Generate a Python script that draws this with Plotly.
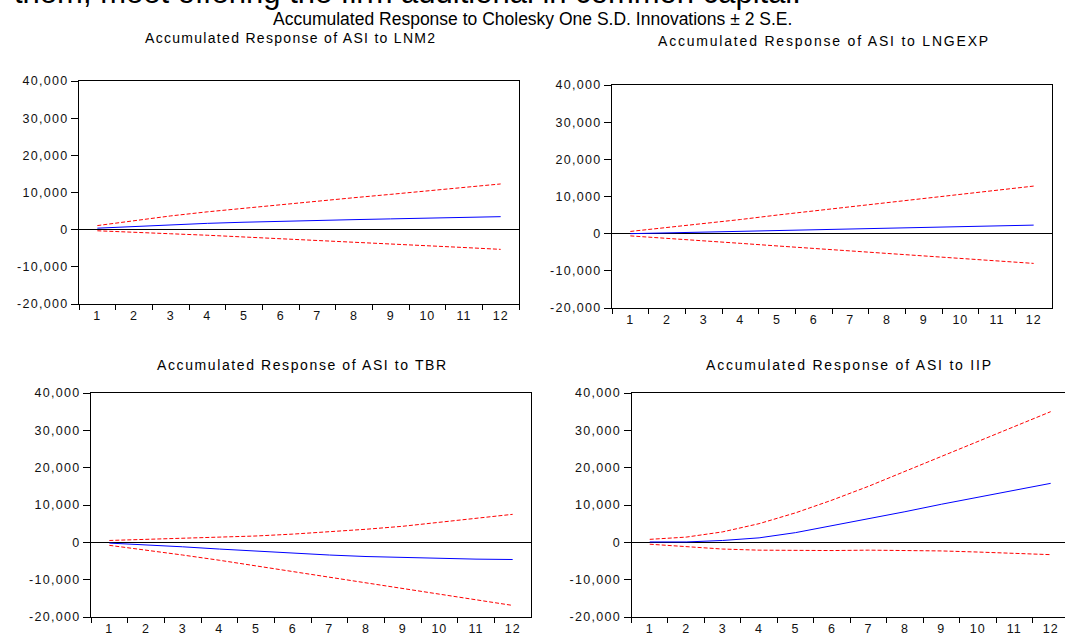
import plotly.graph_objects as go

# ---------------- data ----------------
periods = ["1", "2", "3", "4", "5", "6", "7", "8", "9", "10", "11", "12"]

lnm2_resp  = [400, 900, 1300, 1700, 2000, 2300, 2500, 2700, 2900, 3100, 3300, 3500]
lnm2_upper = [1100, 2500, 3700, 4800, 5800, 6800, 7700, 8600, 9500, 10500, 11400, 12300]
lnm2_lower = [-300, -600, -1100, -1500, -2000, -2400, -2900, -3400, -3900, -4400, -4800, -5300]

lngexp_resp  = [0, 200, 400, 600, 800, 1000, 1200, 1400, 1600, 1800, 2000, 2300]
lngexp_upper = [600, 1600, 2700, 3800, 5000, 6100, 7300, 8500, 9600, 10700, 11800, 12800]
lngexp_lower = [-600, -1200, -1900, -2600, -3300, -4000, -4700, -5400, -6100, -6800, -7400, -8000]

tbr_resp  = [-200, -600, -1200, -1800, -2400, -2900, -3400, -3800, -4100, -4300, -4500, -4600]
tbr_upper = [500, 800, 1000, 1300, 1700, 2200, 2800, 3500, 4300, 5400, 6400, 7500]
tbr_lower = [-800, -2000, -3400, -4800, -6300, -7800, -9300, -10800, -12300, -13900, -15500, -16900]

iip_resp  = [100, 100, 500, 1200, 2600, 4400, 6200, 8200, 10200, 12100, 14000, 15800]
iip_upper = [800, 1400, 2800, 5000, 7900, 11300, 15000, 19000, 23100, 27100, 31000, 35000]
iip_lower = [-500, -1200, -1800, -2100, -2200, -2200, -2100, -2100, -2300, -2600, -2900, -3300]

y_tickvals = [-20000, -10000, 0, 10000, 20000, 30000, 40000]
y_ticklabels = ["-20,000", "-10,000", "0", "10,000", "20,000", "30,000", "40,000"]

main_title = "Accumulated Response to Cholesky One S.D. Innovations \u00b1 2 S.E."
panel_titles = [
    "Accumulated Response of ASI to LNM2",
    "Accumulated Response of ASI to LNGEXP",
    "Accumulated Response of ASI to TBR",
    "Accumulated Response of ASI to IIP",
]
header_text = "them, meet offering the firm additional in common capital."

# ---------------- layout helpers ----------------
W, H = 1065, 635
def px(x):
    return x / W
def py(y):
    return 1 - y / H

FONT = "Liberation Sans, Arial, sans-serif"

def spaced(t, ls):
    return '<span style="letter-spacing:%spx">%s</span>' % (ls, t)

# pixel boxes: (left, right, top, bottom, category range max)
boxes = [
    (79, 519, 81, 304, 11.5),
    (612, 1052, 85, 308, 11.5),
    (91, 531, 393, 617, 11.5),
    (631.5, 1065, 393, 617, -0.5 + (1065 - 631.5) / 36.45),
]
series = [
    (lnm2_resp, lnm2_upper, lnm2_lower),
    (lngexp_resp, lngexp_upper, lngexp_lower),
    (tbr_resp, tbr_upper, tbr_lower),
    (iip_resp, iip_upper, iip_lower),
]
title_pos = [(290, 38), (824, 41), (302, 365), (849, 365)]
title_ls = [1.3, 1.8, 1.6, 1.8]

fig = go.Figure()
layout = dict(
    width=W, height=H, autosize=False,
    margin=dict(l=0, r=0, t=0, b=0, pad=0),
    paper_bgcolor="white", plot_bgcolor="white",
    showlegend=False,
    font=dict(family=FONT, size=12, color="black"),
    annotations=[],
)

tick_text = [spaced(t, 1.3) for t in y_ticklabels]
x_text = [spaced(t, 1.0) for t in periods]
TICKFONT = dict(family=FONT, size=12.5, color="#111111")

for i, ((l, r, t, b, xmax), (resp, up, lo)) in enumerate(zip(boxes, series)):
    n = "" if i == 0 else str(i + 1)
    xa, ya = "x" + n, "y" + n
    for vals, color, dash in ((up, "#FF0000", "4px,2px"), (lo, "#FF0000", "4px,2px"), (resp, "#0000FF", "solid")):
        fig.add_trace(go.Scatter(x=periods, y=vals, mode="lines", xaxis=xa, yaxis=ya,
                                 line=dict(color=color, width=1, dash=dash), hoverinfo="skip"))
    layout["xaxis" + n] = dict(
        domain=[px(l), px(r)], anchor=ya, type="category", automargin=False,
        range=[-0.5, xmax], tickson="boundaries", ticks="outside", ticklen=5,
        tickcolor="black", tickwidth=1,
        tickmode="array", tickvals=periods, ticktext=x_text,
        showline=True, linecolor="black", linewidth=1, mirror=True,
        showgrid=False, zeroline=False, fixedrange=True,
        tickfont=TICKFONT,
    )
    layout["yaxis" + n] = dict(
        domain=[py(b), py(t)], anchor=xa, automargin=False,
        range=[-20000, 40000], tickmode="array", tickvals=y_tickvals, ticktext=tick_text,
        ticks="outside", ticklen=7, tickcolor="black", tickwidth=1,
        showline=True, linecolor="black", linewidth=1, mirror=(i != 3),
        showgrid=False, zeroline=True, zerolinecolor="black", zerolinewidth=1,
        fixedrange=True,
        tickfont=TICKFONT,
    )
    tx, ty = title_pos[i]
    layout["annotations"].append(dict(
        text=spaced(panel_titles[i], title_ls[i]), x=px(tx), y=py(ty), xref="paper", yref="paper",
        xanchor="center", yanchor="middle", showarrow=False,
        font=dict(family=FONT, size=14, color="black")))

layout["annotations"].append(dict(
    text=main_title, x=px(532), y=py(19), xref="paper", yref="paper",
    xanchor="center", yanchor="middle", showarrow=False,
    font=dict(family=FONT, size=17.5, color="black")))

layout["annotations"].append(dict(
    text=header_text, x=px(12), y=py(12.5), xref="paper", yref="paper",
    xanchor="left", yanchor="bottom", showarrow=False,
    font=dict(family=FONT, size=31, color="black")))

fig.update_layout(**layout)

fig.write_html("out.html", config={"displayModeBar": False},
               post_script="document.body.style.margin='0';document.body.style.overflow='hidden';")
